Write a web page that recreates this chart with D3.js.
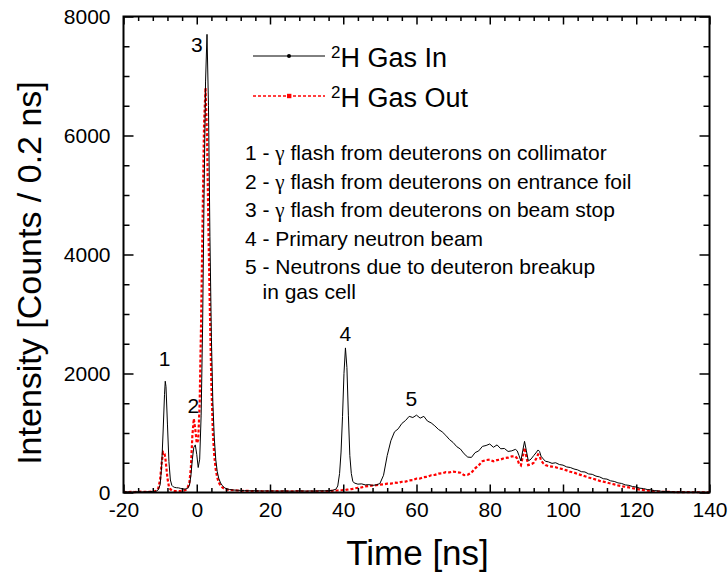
<!DOCTYPE html>
<html>
<head>
<meta charset="utf-8">
<script src="https://cdn.jsdelivr.net/npm/d3@7"></script>
<style>
  body { margin: 0; background: #fff; }
  svg { display: block; }
  text { font-family: "Liberation Sans", Arial, sans-serif; fill: #000; }
</style>
</head>
<body>
<svg id="chart" width="728" height="582"></svg>
<script>
// Time-of-flight spectra, 0.2 ns bins (sampled), counts per bin
const timeNs = [
  -20,-19,-18,-17,-16,-15,-14,-13,-12,
  -11.5,-11,-10.5,-10,-9.6,-9.2,-8.8,-8.6,-8.4,-8,-7.6,-7.2,-6.8,-6.4,-6,
  -5.5,-5,-4.5,-4,-3.5,-3,-2.5,-2,
  -1.6,-1.2,-0.8,-0.4,0,0.4,0.8,1.2,1.6,2,2.4,2.8,3.2,3.6,4,4.4,4.8,5.2,5.6,6,
  6.5,7,7.5,8,9,
  10,11,12,13,14,15,16,17,18,19,20,21,22,23,24,25,26,27,28,29,30,31,32,33,34,35,36,37,
  38,38.5,39,39.4,39.8,40.2,40.6,41,41.4,41.8,42.2,42.6,
  43,44,45,46,47,48,49,50,51,52,53,54,55,56,57,58,59,60,61,62,63,64,65,66,67,68,69,70,
  71,72,73,74,75,76,77,78,79,80,81,82,83,84,85,86,87,
  87.5,88,88.5,89,89.5,90,90.5,91,91.5,92,92.6,93.2,93.6,94,94.6,95.2,
  96,97,98,99,100,101,102,103,104,105,106,107,108,109,110,111,112,113,114,115,
  116,117,118,119,120,121,122,123,124,125,126,127,128,
  130,132,134,136,138,140
];

const gasIn = [
  8,12,6,10,14,9,12,15,18,
  18,25,45,130,420,1000,1650,1870,1780,1150,520,210,120,95,85,
  80,78,70,62,58,60,70,120,
  280,560,760,800,640,420,560,1300,2800,5000,6900,7700,6500,4300,2600,1500,900,550,350,240,
  160,115,85,65,50,
  42,38,35,32,30,28,30,27,25,28,24,26,22,25,27,24,22,25,28,26,24,27,25,28,30,28,32,35,
  55,110,320,680,1280,2000,2430,2100,1300,620,320,190,
  160,140,145,128,132,120,128,150,290,620,870,1020,1070,1160,1210,1280,1260,1300,1250,1280,
  1200,1170,1120,1060,1020,960,890,840,770,730,650,595,590,670,700,775,790,815,760,800,
  735,740,690,700,725,
  700,620,530,700,860,700,540,545,580,620,665,715,690,610,565,525,
  515,490,500,470,460,430,420,395,380,350,345,312,305,275,262,232,225,196,186,162,
  152,128,120,100,92,72,66,50,45,32,28,19,17,
  11,8,6,5,5,4
];

const gasOut = [
  10,6,12,8,11,14,9,13,16,
  20,30,70,220,480,680,650,590,480,240,100,55,35,28,25,
  22,25,24,28,32,45,80,170,
  420,950,1240,1060,830,880,1500,2900,4600,6200,6800,6000,4400,3000,1800,1000,600,380,250,170,
  115,85,65,50,40,
  38,34,30,28,26,25,22,24,21,20,23,19,22,20,18,21,19,22,20,18,16,19,17,20,18,22,25,28,
  32,34,36,38,40,45,42,48,50,55,58,62,
  68,80,86,102,108,118,122,133,138,148,148,165,162,180,183,204,208,234,235,258,
  265,290,296,316,322,342,338,352,342,332,292,298,336,405,458,525,545,552,525,545,
  555,578,585,606,608,
  570,480,455,600,750,600,460,470,480,500,560,640,620,540,490,460,
  445,435,425,405,392,372,348,335,312,292,272,252,236,216,196,182,166,150,136,120,
  106,96,85,72,60,49,40,32,25,20,15,12,10,
  8,6,5,4,4,3
];

const xTicks = [-20, 0, 20, 40, 60, 80, 100, 120, 140];
const xMinorTicks = [-16,-12,-8,-4,4,8,12,16,24,28,32,36,44,48,52,56,64,68,72,76,84,88,92,96,104,108,112,116,124,128,132,136];
const yTicks = [0, 2000, 4000, 6000, 8000];
const yMinorTicks = [500,1000,1500,2500,3000,3500,4500,5000,5500,6500,7000,7500];

const seriesLabels = ["H Gas In", "H Gas Out"];
const seriesColors = ["#000000", "#ff0000"];

// Peak numbers, anchored in data units (time, counts)
const peakTags = [
  { tag: "1", t: -8.8, v: 2130 },
  { tag: "2", t: -0.9, v: 1340 },
  { tag: "3", t: 0.0,  v: 7400 },
  { tag: "4", t: 40.6, v: 2540 },
  { tag: "5", t: 58.6, v: 1450 }
];

// Key to the numbered features
const notes = [
  ["1 - ", "γ", " flash from deuterons on collimator"],
  ["2 - ", "γ", " flash from deuterons on entrance foil"],
  ["3 - ", "γ", " flash from deuterons on beam stop"],
  ["4 - Primary neutron beam"],
  ["5 - Neutrons due to deuteron breakup"],
  ["   in gas cell"]
];

const W = 728, H = 582;
const margin = { left: 123.5, right: 18.5, top: 16.5, bottom: 89.5 };
const svg = d3.select("#chart");

const x = d3.scaleLinear().domain([-20, 140]).range([margin.left, W - margin.right]);
const y = d3.scaleLinear().domain([0, 8000]).range([H - margin.bottom, margin.top]);

// Data curves
const pts = timeNs.map((t, i) => ({ t, a: gasIn[i], b: gasOut[i] }));
const lineIn = d3.line().x(d => x(d.t)).y(d => y(d.a));
const lineOut = d3.line().x(d => x(d.t)).y(d => y(d.b));

svg.append("path").datum(pts)
  .attr("d", lineOut)
  .attr("fill", "none")
  .attr("stroke", seriesColors[1])
  .attr("stroke-width", 2.2)
  .attr("stroke-dasharray", "3,2");

svg.append("path").datum(pts)
  .attr("d", lineIn)
  .attr("fill", "none")
  .attr("stroke", seriesColors[0])
  .attr("stroke-width", 1);

// Axes: ticks point inward on all four sides
const fontTick = 21;
const plain = d => String(d);
function styleAxis(g) {
  g.select(".domain").remove();
  g.selectAll(".tick line").attr("stroke", "#000").attr("stroke-width", 1.5);
  g.selectAll(".tick text").attr("font-size", fontTick).attr("font-family", "Liberation Sans, Arial, sans-serif").attr("fill", "#000");
}

const y0 = y(0), yTop = y(8000), xL = x(-20), xR = x(140);

svg.append("g").attr("transform", `translate(0,${y0})`)
  .call(d3.axisBottom(x).tickValues(xTicks).tickSize(-8).tickPadding(10).tickFormat(plain))
  .call(styleAxis);
svg.append("g").attr("transform", `translate(0,${y0})`)
  .call(d3.axisBottom(x).tickValues(xMinorTicks).tickSize(-4.5).tickFormat(""))
  .call(styleAxis);
svg.append("g").attr("transform", `translate(0,${yTop})`)
  .call(d3.axisTop(x).tickValues(xTicks).tickSize(-8).tickFormat(""))
  .call(styleAxis);
svg.append("g").attr("transform", `translate(0,${yTop})`)
  .call(d3.axisTop(x).tickValues(xMinorTicks).tickSize(-4.5).tickFormat(""))
  .call(styleAxis);

svg.append("g").attr("transform", `translate(${xL},0)`)
  .call(d3.axisLeft(y).tickValues(yTicks).tickSize(-10).tickPadding(13).tickFormat(plain))
  .call(styleAxis);
svg.append("g").attr("transform", `translate(${xL},0)`)
  .call(d3.axisLeft(y).tickValues(yMinorTicks).tickSize(-6).tickFormat(""))
  .call(styleAxis);
svg.append("g").attr("transform", `translate(${xR},0)`)
  .call(d3.axisRight(y).tickValues(yTicks).tickSize(-10).tickFormat(""))
  .call(styleAxis);
svg.append("g").attr("transform", `translate(${xR},0)`)
  .call(d3.axisRight(y).tickValues(yMinorTicks).tickSize(-6).tickFormat(""))
  .call(styleAxis);

// Plot frame
svg.append("rect")
  .attr("x", xL).attr("y", yTop)
  .attr("width", xR - xL).attr("height", y0 - yTop)
  .attr("fill", "none").attr("stroke", "#000").attr("stroke-width", 2);

// Axis titles
svg.append("text")
  .attr("x", (xL + xR) / 2 + 1).attr("y", 565)
  .attr("text-anchor", "middle")
  .attr("font-size", 35)
  .text("Time [ns]");

svg.append("text")
  .attr("transform", "translate(41,273) rotate(-90)")
  .attr("text-anchor", "middle")
  .attr("font-size", 34)
  .text("Intensity [Counts / 0.2 ns]");

// Peak numbers
svg.selectAll("text.peak").data(peakTags).enter().append("text")
  .attr("class", "peak")
  .attr("x", d => x(d.t)).attr("y", d => y(d.v))
  .attr("text-anchor", "middle")
  .attr("font-size", 21)
  .text(d => d.tag);

// Legend
const legendRows = [
  { yLine: 56, label: seriesLabels[0], color: seriesColors[0], dash: null, width: 1, marker: "circle" },
  { yLine: 96, label: seriesLabels[1], color: seriesColors[1], dash: "3,2", width: 1.5, marker: "square" }
];
const lg = svg.append("g");
legendRows.forEach(r => {
  lg.append("line")
    .attr("x1", 253).attr("x2", 325).attr("y1", r.yLine).attr("y2", r.yLine)
    .attr("stroke", r.color).attr("stroke-width", r.width)
    .attr("stroke-dasharray", r.dash);
  if (r.marker === "circle") {
    lg.append("circle").attr("cx", 289).attr("cy", r.yLine).attr("r", 2).attr("fill", r.color);
  } else {
    lg.append("rect").attr("x", 287).attr("y", r.yLine - 2.2).attr("width", 4.4).attr("height", 4.4).attr("fill", r.color);
  }
  const t = lg.append("text").attr("x", 331).attr("y", r.yLine + 11).attr("font-size", 27);
  t.append("tspan").attr("font-size", 17).attr("dy", -9).text("2");
  t.append("tspan").attr("dy", 9).text(r.label);
});

// Feature key
const noteBase = [160, 188.5, 217, 245.5, 274, 299];
notes.forEach((parts, i) => {
  const t = svg.append("text").attr("x", 245).attr("y", noteBase[i]).attr("font-size", 21)
    .attr("xml:space", "preserve").style("white-space", "pre");
  parts.forEach(p => {
    const s = t.append("tspan").text(p);
    if (p === "γ") s.attr("font-family", "Liberation Serif, Times New Roman, serif");
  });
});
</script>
</body>
</html>
